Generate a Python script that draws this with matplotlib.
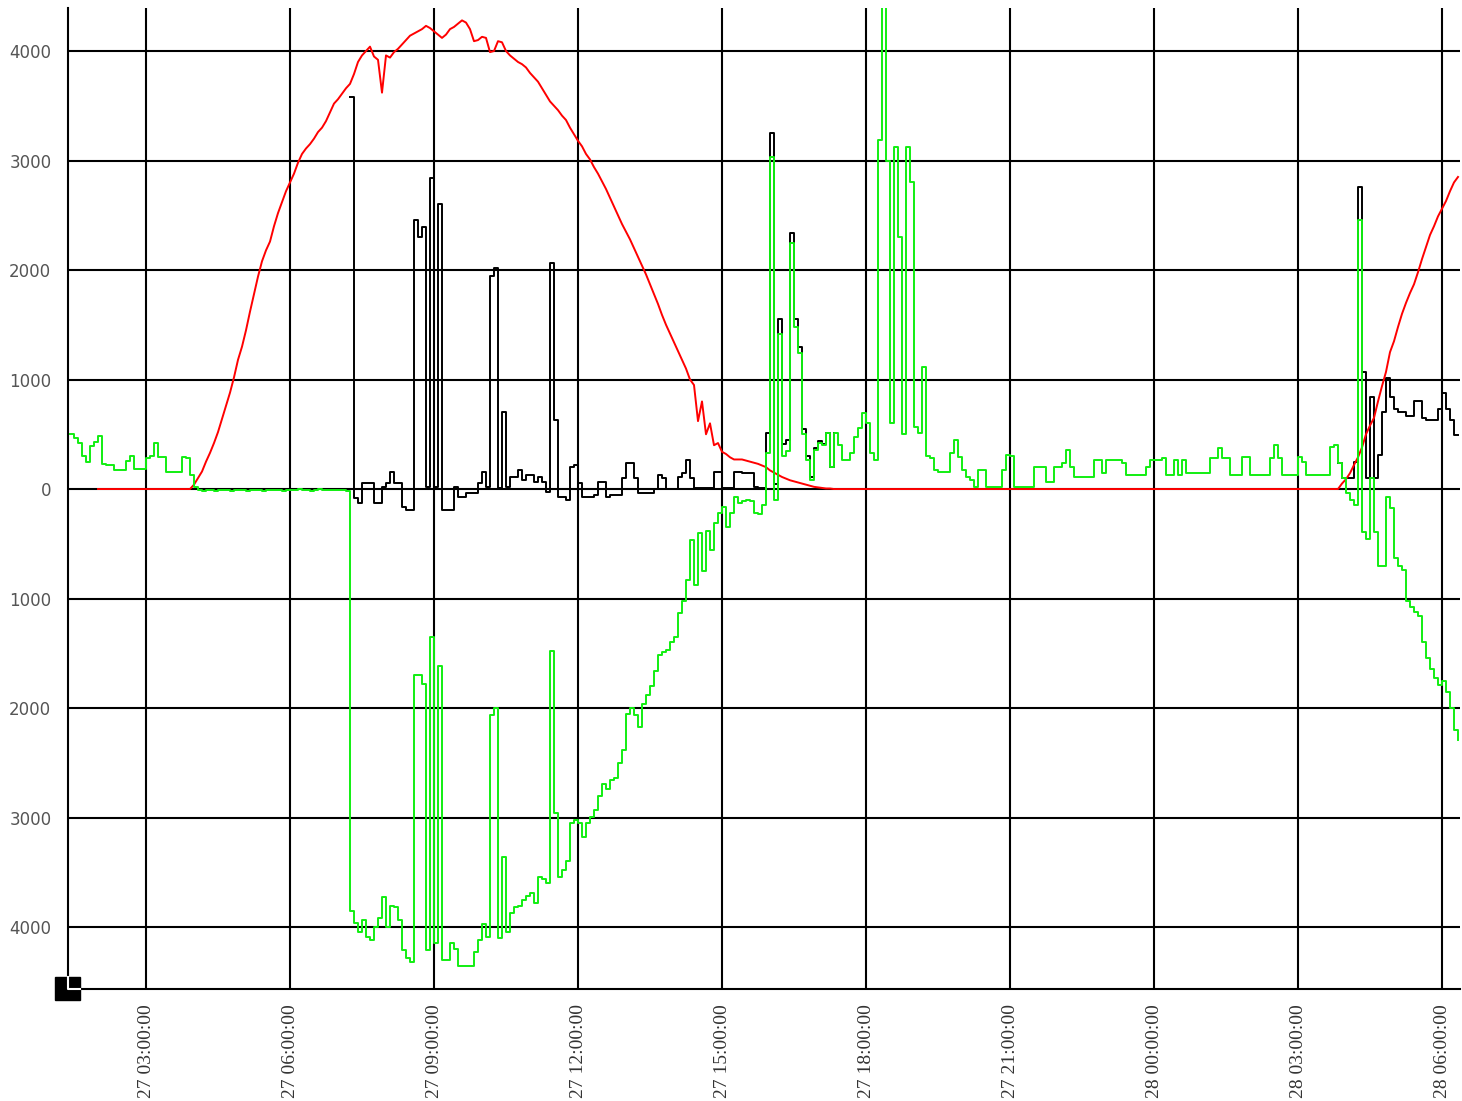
import numpy as np
import pandas as pd
import matplotlib
matplotlib.use('Agg')
from matplotlib import pyplot as plt
import matplotlib.dates as mdates
from matplotlib.patches import Rectangle
from matplotlib.lines import Line2D

# 5-minute samples, one row per clock hour
green_start = '2013-06-27 01:25'
green = [
    500, 470, 420, 300, 250, 390, 430,                                   # 27 01
    480, 230, 220, 220, 170, 170, 170, 260, 300, 180, 180, 180,          # 02
    280, 300, 420, 290, 290, 160, 160, 160, 160, 290, 280, 130,          # 03
    20, -10, -20, -10, -10, -20, -10, -10, -10, -20, -10, -10,           # 04
    -10, -20, -10, -10, -10, -20, -10, -10, -10, -10, -20, -10,          # 05
    -10, -10, 0, -10, -10, -20, -10, 0, -10, -10, -10, -10,              # 06
    -10, -10, -20, -3850, -3960, -4050, -3940, -4090, -4120, -4000, -3920, -3730,   # 07
    -4000, -3810, -3820, -3940, -4210, -4280, -4320, -1700, -1700, -1780, -4210, -1350,  # 08
    -4150, -1620, -4300, -4300, -4150, -4200, -4360, -4360, -4360, -4360, -4230, -4120,  # 09
    -3970, -4090, -2060, -2000, -4100, -3360, -4050, -3870, -3820, -3810, -3750, -3720,  # 10
    -3690, -3780, -3540, -3560, -3600, -1480, -2960, -3540, -3480, -3400, -3050, -3020,  # 11
    -3050, -3175, -3050, -2995, -2930, -2800, -2690, -2740, -2660, -2640, -2500, -2380,  # 12
    -2050, -2000, -2060, -2170, -1960, -1880, -1800, -1660, -1520, -1490, -1470, -1400,  # 13
    -1350, -1130, -1020, -830, -470, -880, -400, -750, -380, -560, -310, -220,           # 14
    -160, -345, -220, -75, -130, -110, -100, -110, -220, -230, -150, 330,                # 15
    3030, -100, 1420, 300, 350, 2245, 1480, 1240, 500, 265, 80, 355,     # 16
    420, 400, 510, 200, 510, 400, 265, 265, 330, 475, 560, 690,          # 17
    600, 330, 265, 3185, 4450, 3000, 600, 3120, 2300, 500, 3120, 2800,   # 18
    570, 510, 1115, 300, 280, 175, 160, 160, 160, 330, 450, 290,         # 19
    175, 110, 80, 20, 175, 175, 20, 20, 20, 20, 175, 310,                # 20
    300, 20, 20, 20, 20, 20, 200, 200, 200, 65, 65, 200,                 # 21
    200, 235, 355, 200, 110, 110, 110, 110, 110, 265, 265, 145,          # 22
    265, 265, 265, 265, 240, 130, 130, 130, 130, 130, 200, 265,          # 23
    265, 265, 280, 130, 130, 265, 130, 265, 145, 145, 145, 145,          # 28 00
    145, 145, 280, 280, 375, 280, 280, 130, 130, 130, 290, 290,          # 01
    130, 130, 130, 130, 130, 280, 400, 280, 130, 130, 130, 130,          # 02
    290, 250, 130, 130, 130, 130, 130, 130, 385, 400, 235, 100,          # 03
    -35, -100, -145, 2455, -395, -455, 100, -395, -700, -700, -70, -170,               # 04
    -630, -700, -740, -1020, -1080, -1125, -1160, -1400, -1540, -1640, -1725, -1790,   # 05
    -1755, -1850, -2000, -2200, -2290,                                   # 06
]

red_start = '2013-06-27 02:00'
red = [
    0, 0, 0, 0, 0, 0, 0, 0, 0, 0, 0, 0,                                  # 27 02
    0, 0, 0, 0, 0, 0, 0, 0, 0, 0, 0, 0,                                  # 03
    40, 100, 160, 250, 330, 420, 520, 640, 760, 880, 1020, 1180,         # 04
    1300, 1450, 1620, 1780, 1940, 2080, 2180, 2260, 2400, 2520, 2620, 2720,   # 05
    2800, 2880, 2980, 3060, 3110, 3150, 3200, 3260, 3300, 3360, 3440, 3520,   # 06
    3560, 3610, 3660, 3700, 3790, 3900, 3960, 4000, 4040, 3950, 3920, 3620,   # 07
    3960, 3940, 3990, 4020, 4060, 4100, 4140, 4160, 4180, 4200, 4230, 4210,   # 08
    4180, 4150, 4120, 4150, 4200, 4220, 4250, 4280, 4260, 4200, 4090, 4100,   # 09
    4130, 4120, 3990, 4000, 4090, 4080, 4000, 3960, 3930, 3900, 3880, 3850,   # 10
    3800, 3760, 3720, 3660, 3600, 3540, 3500, 3460, 3410, 3370, 3300, 3240,   # 11
    3180, 3130, 3060, 3010, 2940, 2880, 2810, 2740, 2660, 2580, 2500, 2420,   # 12
    2350, 2280, 2200, 2120, 2040, 1960, 1870, 1780, 1690, 1590, 1500, 1420,   # 13
    1340, 1260, 1180, 1100, 1000, 950, 620, 800, 500, 600, 400, 420,          # 14
    340, 320, 290, 270, 270, 270, 260, 250, 240, 230, 215, 200,          # 15
    170, 150, 130, 110, 95, 80, 70, 60, 50, 40, 30, 20,                  # 16
    15, 10, 5, 5, 0, 0, 0, 0, 0, 0, 0, 0,                                # 17
    0, 0, 0, 0, 0, 0, 0, 0, 0, 0, 0, 0,                                  # 18
    0, 0, 0, 0, 0, 0, 0, 0, 0, 0, 0, 0,                                  # 19
    0, 0, 0, 0, 0, 0, 0, 0, 0, 0, 0, 0,                                  # 20
    0, 0, 0, 0, 0, 0, 0, 0, 0, 0, 0, 0,                                  # 21
    0, 0, 0, 0, 0, 0, 0, 0, 0, 0, 0, 0,                                  # 22
    0, 0, 0, 0, 0, 0, 0, 0, 0, 0, 0, 0,                                  # 23
    0, 0, 0, 0, 0, 0, 0, 0, 0, 0, 0, 0,                                  # 28 00
    0, 0, 0, 0, 0, 0, 0, 0, 0, 0, 0, 0,                                  # 01
    0, 0, 0, 0, 0, 0, 0, 0, 0, 0, 0, 0,                                  # 02
    0, 0, 0, 0, 0, 0, 0, 0, 0, 0, 0, 50,                                 # 03
    90, 145, 220, 290, 380, 500, 580, 650, 800, 940, 1070, 1250,         # 04
    1350, 1480, 1600, 1700, 1790, 1870, 1980, 2100, 2210, 2320, 2400, 2490,   # 05
    2560, 2630, 2720, 2800, 2850,                                        # 06
]

# black is hidden under green outside these two stretches
black_day_start = '2013-06-27 07:15'
black_day = [
    3580, -80, -130, 55, 55, 55, -130, -130, 20,                         # 07
    55, 155, 55, 55, -160, -190, -190, 2455, 2300, 2390, 20, 2840,       # 08
    20, 2600, -190, -190, -190, 20, -70, -70, -35, -35, -35, 55,         # 09
    155, 20, 1950, 2020, 10, 700, 20, 110, 110, 175, 80, 130,            # 10
    130, 60, 110, 60, -30, 2065, 630, -75, -75, -100, 200, 220,          # 11
    55, -70, -70, -70, -50, 65, 65, -70, -55, -55, -55, 100,             # 12
    235, 235, 100, -40, -40, -40, -40, 0, 130, 100, 0, 0,                # 13
    0, 110, 145, 265, 100, 10, 10, 10, 10, 10, 155, 155,                 # 14
    10, 10, 10, 155, 155, 145, 145, 145, 20, 10, 10, 510,                # 15
    3250, 50, 1550, 410, 445, 2340, 1550, 1300, 550, 305, 110, 375,      # 16
    435, 410, 515, 205, 510,                                             # 17
]

black_dawn_start = '2013-06-28 03:50'
black_dawn = [
    235, 100,
    100, 100, 250, 2760, 1070, 100, 840, 100, 310, 700, 1010, 840,
    735, 700, 700, 665, 665, 800, 800, 650, 630, 630, 630, 735,
    875, 735, 630, 490, 490,
]

yticks = [-4000, -3000, -2000, -1000, 0, 1000, 2000, 3000, 4000]


def series(start, vals):
    t = pd.date_range(start, periods=len(vals), freq='5min')
    return t, np.array(vals, dtype=float)


W, H = 1462, 1101
fig = plt.figure(figsize=(W / 100, H / 100), dpi=100)
ax = fig.add_axes([68 / W, 1 - 989 / H, (1460 - 68) / W, (989 - 8) / H])

t, v = series(black_day_start, black_day)
ax.plot(t, v, color='black', lw=1.4, drawstyle='steps-post', zorder=3)
t, v = series(black_dawn_start, black_dawn)
ax.plot(t, v, color='black', lw=1.4, drawstyle='steps-post', zorder=3)
t, v = series(red_start, red)
ax.plot(t, v, color='#ff0000', lw=1.4, zorder=4)
t, v = series(green_start, green)
ax.plot(t, v, color='#11ee11', lw=1.4, drawstyle='steps-post', zorder=5)

ax.set_xlim(pd.Timestamp('2013-06-27 01:22:30'), pd.Timestamp('2013-06-28 06:22:30'))
ax.set_ylim(-4566, 4393)

ax.xaxis.set_major_locator(mdates.HourLocator(byhour=range(0, 24, 3)))
ax.xaxis.set_major_formatter(mdates.DateFormatter('%d %H:%M:%S'))
ax.set_yticks(yticks)
ax.set_yticklabels([str(abs(y)) for y in yticks])

ax.grid(True, color='black', lw=1.5, zorder=1)
ax.set_axisbelow(True)
for s in ['top', 'right']:
    ax.spines[s].set_visible(False)
for s in ['left', 'bottom']:
    ax.spines[s].set_color('black')
    ax.spines[s].set_linewidth(1.5)

ax.tick_params(axis='both', length=0)
ax.tick_params(axis='y', pad=12, labelsize=12, labelcolor='#555555')
ax.tick_params(axis='x', pad=11, labelsize=14, labelcolor='#333333', labelrotation=90)
for lab in ax.get_xticklabels():
    lab.set_fontfamily('Liberation Serif')

# little corner marker at the origin
fig.add_artist(Rectangle((55 / W, 1 - 1000 / H), 25 / W, 23 / H,
                         transform=fig.transFigure, color='black', zorder=10))
fig.add_artist(Line2D([68 / W, 68 / W, 80 / W], [1 - 977 / H, 1 - 989 / H, 1 - 989 / H],
                      transform=fig.transFigure, color='white', lw=1.5, zorder=11))

fig.savefig('out.png', dpi=100)
